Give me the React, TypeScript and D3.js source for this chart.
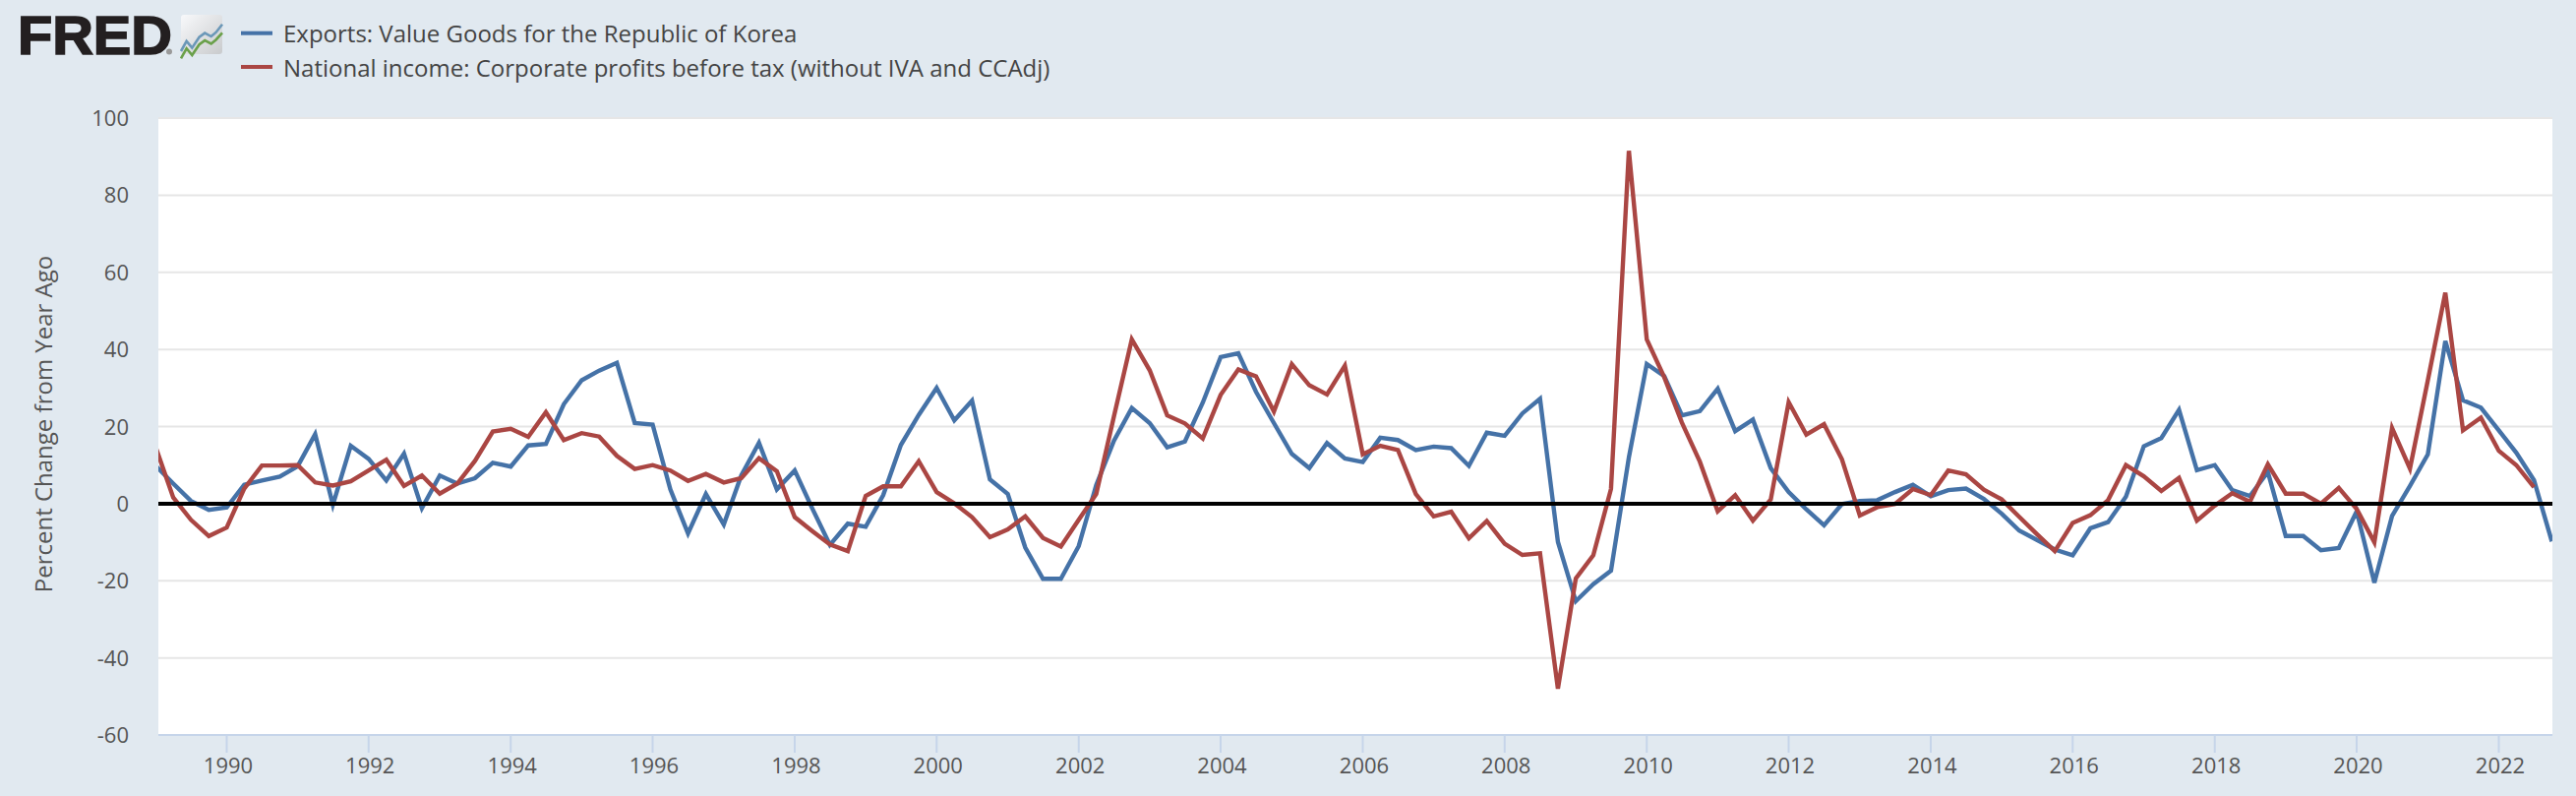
import React from "react";
import * as d3 from "d3";

const startYear = 1989;
const exportsKorea = [
  9.8, 5.2, 0.7, -1.6, -1.0, 4.9, 6.0, 7.0, 9.7, 18.0, -0.3, 15.0,
  11.6, 6.0, 13.0, -1.2, 7.3, 5.2, 6.6, 10.6, 9.6, 15.1, 15.5, 25.8,
  32.0, 34.5, 36.5, 20.9, 20.5, 3.7, -7.7, 2.5, -5.4, 7.3, 15.8, 3.7,
  8.6, -1.2, -10.7, -5.2, -6.0, 2.2, 15.2, 23.0, 30.0, 21.6, 26.7, 6.3,
  2.5, -11.4, -19.5, -19.5, -11.0, 4.8, 16.3, 24.8, 20.9, 14.6, 16.1, 26.2,
  38.0, 39.0, 29.0, 20.9, 12.9, 9.2, 15.7, 11.7, 10.8, 17.1, 16.5, 13.9,
  14.8, 14.4, 9.8, 18.4, 17.6, 23.4, 27.2, -9.9, -25.3, -20.9, -17.4, 12.0,
  36.2, 33.1, 22.9, 24.0, 29.8, 18.8, 21.8, 9.2, 3.0, -1.5, -5.6, -0.1,
  0.7, 0.9, 3.0, 4.9, 1.9, 3.5, 3.9, 1.2, -2.6, -7.0, -9.4, -11.9,
  -13.4, -6.4, -4.8, 1.8, 14.9, 17.0, 24.3, 8.7, 10.0, 3.5, 2.0, 8.2,
  -8.4, -8.4, -12.1, -11.5, -2.0, -20.5, -3.2, 4.6, 12.8, 42.2, 26.8, 24.9,
  19.0, 13.2, 6.1, -9.8,
];
const corporateProfits = [
  14.6, 1.6, -4.2, -8.4, -6.2, 3.9, 9.9, 9.9, 10.0, 5.5, 4.7, 5.8,
  8.6, 11.4, 4.6, 7.3, 2.6, 5.2, 11.1, 18.7, 19.4, 17.3, 23.7, 16.5,
  18.3, 17.4, 12.4, 9.0, 10.0, 8.6, 5.9, 7.7, 5.5, 6.6, 11.8, 8.4,
  -3.5, -7.1, -10.6, -12.3, 2.0, 4.5, 4.5, 11.0, 3.0, 0.1, -3.5, -8.7,
  -6.7, -3.3, -8.9, -11.1, -4.2, 2.5, 22.6, 42.6, 34.6, 22.9, 20.8, 16.9,
  28.2, 34.8, 33.0, 23.9, 36.2, 30.7, 28.3, 35.8, 12.8, 15.0, 13.9, 2.5,
  -3.3, -2.1, -9.0, -4.5, -10.4, -13.3, -12.9, -48.0, -19.4, -13.4, 3.8, 91.5,
  42.6, 32.8, 21.0, 10.9, -2.0, 2.2, -4.4, 1.1, 26.3, 17.9, 20.6, 11.5,
  -3.1, -0.9, -0.1, 3.8, 2.2, 8.6, 7.6, 3.6, 1.1, -3.4, -7.9, -12.3,
  -5.0, -3.0, 0.9, 10.0, 7.1, 3.3, 6.7, -4.4, -0.5, 2.7, 0.5, 10.2,
  2.6, 2.6, 0.0, 4.1, -1.4, -10.0, 19.6, 9.1, 32.0, 54.7, 19.0, 22.3,
  13.7, 10.0, 4.3,
];
const yTicks = [-60, -40, -20, 0, 20, 40, 60, 80, 100];
const xTickYears = d3.range(1990, 2023, 2);
const legendLabels = [
  "Exports: Value Goods for the Republic of Korea",
  "National income: Corporate profits before tax (without IVA and CCAdj)",
];
const yAxisTitle = "Percent Change from Year Ago";
const logoIconX = [0, 3.5, 7, 11.5, 15, 19, 22, 26];
const logoIconBlueY = [0, 3, 1, 4.2, 5.4, 4.4, 5.6, 8];

const FONT = "'Open Sans', sans-serif";
const BG = "#e1e9f0";
const BLUE = "#4572a7";
const RED = "#aa4643";
const TEXT = "#555555";

const W = 2619;
const H = 809;
const plot = { left: 161, right: 2595, top: 120, bottom: 747 };

const dateOf = (i: number) =>
  new Date(Date.UTC(startYear + Math.floor(i / 4), (i % 4) * 3, 1));

export default function App() {
  const x = d3
    .scaleUtc()
    .domain([new Date(Date.UTC(1990, 0, 1)), new Date(Date.UTC(2022, 0, 1))])
    .range([230.5, 2540.5]);
  const y = d3.scaleLinear().domain([-60, 100]).range([plot.bottom, plot.top]);
  const line = d3
    .line<number>()
    .x((_, i) => x(dateOf(i)))
    .y((d) => y(d));

  const iconX = d3.scaleLinear().domain([0, 26]).range([184, 226]);
  const iconY = d3.scaleLinear().domain([0, 10]).range([52, 18]);
  const iconBlue = d3
    .line<number>()
    .x((d) => iconX(d))
    .y((_, i) => iconY(logoIconBlueY[i]));
  const iconGreen = d3
    .line<number>()
    .x((d) => iconX(d))
    .y((_, i) => iconY(logoIconBlueY[i] - 2.2 + (i === 7 ? -0.3 : 0)));

  return (
    <svg
      width={W}
      height={H}
      viewBox={`0 0 ${W} ${H}`}
      style={{ position: "fixed", left: 0, top: 0, display: "block" }}
      fontFamily={FONT}
    >
      <defs>
        <clipPath id="plotClip">
          <rect x={plot.left} y={plot.top} width={plot.right - plot.left} height={plot.bottom - plot.top} />
        </clipPath>
        <linearGradient id="iconBg" x1="0" y1="0" x2="1" y2="1">
          <stop offset="0" stopColor="#f8f9fb" />
          <stop offset="1" stopColor="#c9cbcd" />
        </linearGradient>
      </defs>
      <rect width={W} height={H} fill={BG} />

      {/* logo */}
      <text
        x={18}
        y={55}
        fontFamily="'Liberation Sans', Arial, sans-serif"
        fontWeight={700}
        fontSize={56}
        stroke="#231f20"
        strokeWidth={1.6}
        fill="#231f20"
        textLength={157}
        lengthAdjust="spacingAndGlyphs"
      >
        FRED
      </text>
      <circle cx={172} cy={52.5} r={3} fill="#9a9a9a" />
      <rect x={184} y={15} width={42} height={40} rx={3} fill="url(#iconBg)" />
      <path d={iconBlue(logoIconX) ?? ""} fill="none" stroke="#6b98b8" strokeWidth={2.6} />
      <path d={iconGreen(logoIconX) ?? ""} fill="none" stroke="#6aa04a" strokeWidth={2.6} />

      {/* legend */}
      {legendLabels.map((label, i) => (
        <g key={label}>
          <line x1={245} x2={277} y1={33.7 + i * 34.3} y2={33.7 + i * 34.3} stroke={i === 0 ? BLUE : RED} strokeWidth={4} />
          <text x={288} y={42.5 + i * 35} fontSize={24} fill="#444444">
            {label}
          </text>
        </g>
      ))}

      {/* plot */}
      <rect x={plot.left} y={plot.top} width={plot.right - plot.left} height={plot.bottom - plot.top} fill="#ffffff" />
      {yTicks
        .filter((t) => t !== -60)
        .map((t) => (
          <line key={t} x1={plot.left} x2={plot.right} y1={y(t)} y2={y(t)} stroke="#e6e6e6" strokeWidth={2} />
        ))}
      <g clipPath="url(#plotClip)" fill="none" strokeLinejoin="miter" strokeWidth={4.4}>
        <path d={line(exportsKorea) ?? ""} stroke={BLUE} />
        <path d={line(corporateProfits) ?? ""} stroke={RED} />
      </g>
      <line x1={plot.left} x2={plot.right} y1={512} y2={512} stroke="#000000" strokeWidth={4} />

      {/* x axis */}
      <line x1={plot.left} x2={plot.right} y1={plot.bottom} y2={plot.bottom} stroke="#c6d5ea" strokeWidth={2} />
      {xTickYears.map((yr) => {
        const px = x(new Date(Date.UTC(yr, 0, 1)));
        return (
          <g key={yr}>
            <line x1={px} x2={px} y1={plot.bottom} y2={765} stroke="#c6d5ea" strokeWidth={2} />
            <text x={px + 1.5} y={786} fontSize={22} textAnchor="middle" fill={TEXT}>
              {yr}
            </text>
          </g>
        );
      })}

      {/* y axis */}
      {yTicks.map((t) => (
        <text key={t} x={131} y={y(t) + 8} fontSize={22} textAnchor="end" fill={TEXT}>
          {t}
        </text>
      ))}
      <text
        transform={`translate(53,431) rotate(-90)`}
        fontSize={24}
        textAnchor="middle"
        fill={TEXT}
      >
        {yAxisTitle}
      </text>
    </svg>
  );
}
